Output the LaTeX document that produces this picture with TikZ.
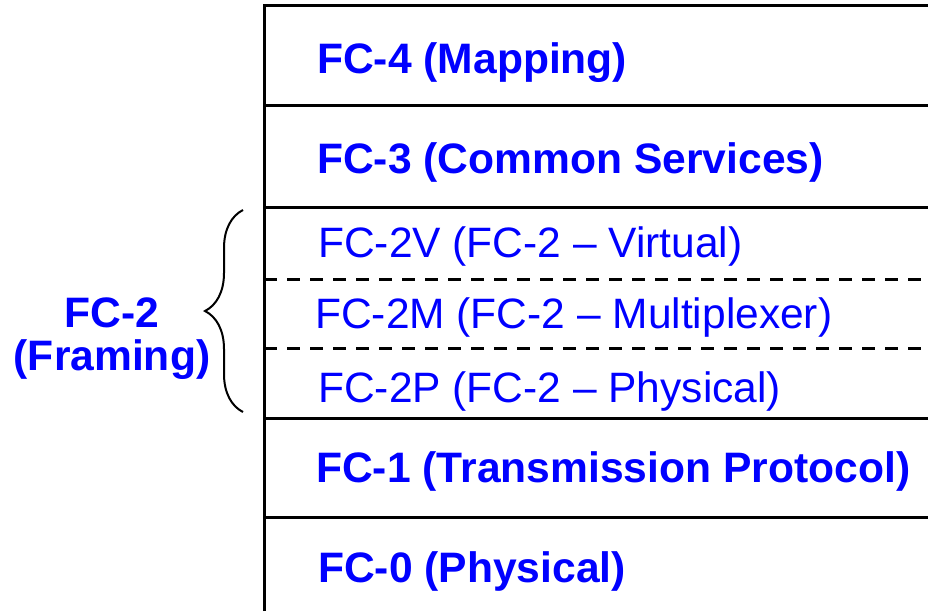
\documentclass[tikz,border=0pt]{standalone}
\usepackage{fontspec}
\setmainfont{Liberation Sans}
\usetikzlibrary{decorations.pathreplacing}
\definecolor{fcblue}{RGB}{0,0,255}
\tikzset{
  layer/.style={anchor=base west, inner sep=0pt, text=fcblue, font=\fontsize{42.6}{48}\selectfont\bfseries},
  sublayer/.style={layer, font=\fontsize{42.5}{48}\selectfont},
  border/.style={line width=3pt},
  subborder/.style={line width=3pt, dash pattern=on 13pt off 10pt},
}

\begin{document}
\begin{tikzpicture}[x=1pt,y=-1pt]
    \useasboundingbox (0,0) rectangle (928,611);

    % Draw layer borders
    \draw[border] (264,611) -- (264,5) -- (928,5);
    \foreach \y in {105,207,418,517}
        \draw[border] (264,\y) -- (928,\y);
    \foreach \y in {279,348}
        \draw[subborder] (264,\y) -- (928,\y);

    % Draw layer names
    \node[layer] (fc4) at (317,73) {FC-4 (Mapping)};
    \node[layer] (fc3) at (317,173) {FC-3 (Common Services)};
    \node[sublayer] (fc2v) at (318,257) {FC-2V (FC-2 \textendash{} Virtual)};
    \node[sublayer] (fc2m) at (315,328) {FC-2M (FC-2 \textendash{} Multiplexer)};
    \node[sublayer] (fc2p) at (318,402) {FC-2P (FC-2 \textendash{} Physical)};
    \node[layer] (fc1) at (316,482) {FC-1 (Transmission Protocol)};
    \node[layer] (fc0) at (318,582) {FC-0 (Physical)};

    % Draw FC-2 label and brace
    \node[layer, anchor=base] (fc2) at (112,327) {FC-2};
    \node[layer, anchor=base] (framing) at (112,370) {(Framing)};
    \coordinate (bracetop) at (243,210);
    \coordinate (bracebot) at (243,412);
    \draw[line width=2pt, decorate, decoration={brace, amplitude=38pt}] (bracebot) -- (bracetop);
\end{tikzpicture}
\end{document}
